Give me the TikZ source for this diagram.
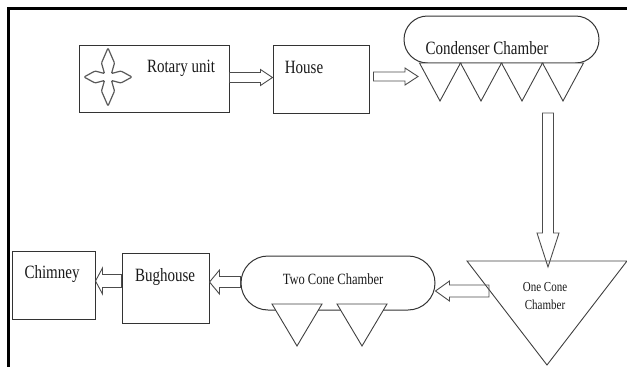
\documentclass[tikz,border=0pt]{standalone}
\usepackage{fontspec}
\setmainfont{Liberation Serif}
\usetikzlibrary{calc, shapes.misc}
\newcommand{\tallt}[1]{\scalebox{1}[1.25]{#1}}
\def\shw{5pt}
\def\hdw{8pt}
\def\hdl{12pt}

\begin{document}
\begin{tikzpicture}[x=1pt, y=-1pt,
  box/.style={draw=black!80, line width=1pt, rectangle, inner sep=0pt},
  pill/.style={draw=black!80, line width=1pt, rounded rectangle, inner sep=0pt},
  cone/.style={draw=black!75, line width=0.9pt, fill=white},
  lbl/.style={inner sep=0pt, text=black!90, font=\fontsize{15}{18}\selectfont},
  shaftw/.code={\def\shw{#1}}, headw/.code={\def\hdw{#1}}, headl/.code={\def\hdl{#1}},
  fat/.style={draw=black!70, line width=0.9pt, line join=miter, to path={
    ($(\tikztostart)!\shw!90:(\tikztotarget)$)
    -- ($($(\tikztotarget)!\hdl!(\tikztostart)$)!\shw!90:(\tikztotarget)$)
    -- ($($(\tikztotarget)!\hdl!(\tikztostart)$)!\hdw!90:(\tikztotarget)$)
    -- (\tikztotarget)
    -- ($($(\tikztotarget)!\hdl!(\tikztostart)$)!\hdw!-90:(\tikztotarget)$)
    -- ($($(\tikztotarget)!\hdl!(\tikztostart)$)!\shw!-90:(\tikztotarget)$)
    -- ($(\tikztostart)!\shw!-90:(\tikztotarget)$) -- cycle}}]
\useasboundingbox (0,0) rectangle (627,367);
\draw[line width=2.5pt, line join=miter] (627,8.5) -| (8.5,367);

\node[box, minimum width=150pt, minimum height=67pt] (rot) at (154,78.5) {};
\node[box, minimum width=96pt, minimum height=68pt] (house) at (321,79) {};
\node[pill, minimum width=195pt, minimum height=47pt] (cond) at (501.5,39.5) {};
\node[pill, minimum width=194pt, minimum height=54pt] (two) at (338,283) {};
\node[box, minimum width=87pt, minimum height=70pt] (bug) at (165.5,288) {};
\node[box, minimum width=83pt, minimum height=68pt] (chim) at (53.5,285) {};

\draw[draw=black!65, line width=1.2pt, rounded corners=1pt, shift={(108,77)}]
  (0,-29) -- (6.5,-14) -- (3.5,-3.5) -- (13,-6) -- (24,0) -- (13,6) -- (3.5,3.5) -- (6.5,14)
  -- (0,29) -- (-6.5,14) -- (-3.5,3.5) -- (-13,6) -- (-24,0) -- (-13,-6) -- (-3.5,-3.5) -- (-6.5,-14) -- cycle;

\foreach \cx in {440,481,522,563}
  \draw[cone] ({\cx-20.5},63) -- ({\cx+20.5},63) -- (\cx,101) -- cycle;
\foreach \cx in {297,362}
  \draw[cone] ({\cx-25},304) -- ({\cx+25},304) -- (\cx,346) -- cycle;
\draw[draw=black!75, line width=0.9pt] (467,261) -- (627,261) -- (547,365) -- cycle;

\node[lbl] (rottxt) at (181,68) {\tallt{Rotary unit}};
\node[lbl] (housetxt) at (304,67) {\tallt{House}};
\node[lbl] (condtxt) at (487,48) {\tallt{Condenser Chamber}};
\node[lbl, font=\fontsize{12.5}{15}\selectfont] (twotxt) at (333,279) {\tallt{Two Cone Chamber}};
\node[lbl] (bugtxt) at (165,277) {\tallt{Bughouse}};
\node[lbl] (chimtxt) at (52,274) {\tallt{Chimney}};
\node[lbl, align=center, font=\fontsize{11}{18}\selectfont] (onetxt) at (545,296)
  {\tallt{One Cone}\\\tallt{Chamber}};

\coordinate (condin) at (418,76.5);
\coordinate (condout) at (548,113);
\coordinate (onetip) at (548,267);
\coordinate (onein) at (489,291);

\draw[fat] ([yshift=1pt]rot.east) to ([yshift=1.5pt]house.west);
\draw[fat, shaftw=4.5pt, headw=8.5pt, headl=13pt] ([xshift=4pt, yshift=2.5pt]house.east) to (condin);
\draw[fat, shaftw=5.5pt, headw=11pt, headl=34pt] (condout) to (onetip);
\draw[fat, shaftw=6pt, headw=10pt, headl=14pt] (onein) to ([yshift=-8pt]two.east);
\draw[fat, shaftw=5.5pt, headw=12pt, headl=10pt] ([yshift=1pt]two.west) to ([yshift=6pt]bug.east);
\draw[fat, shaftw=6.5pt, headw=13pt, headl=7pt] ([yshift=7pt]bug.west) to ([yshift=4pt]chim.east);
\end{tikzpicture}
\end{document}
